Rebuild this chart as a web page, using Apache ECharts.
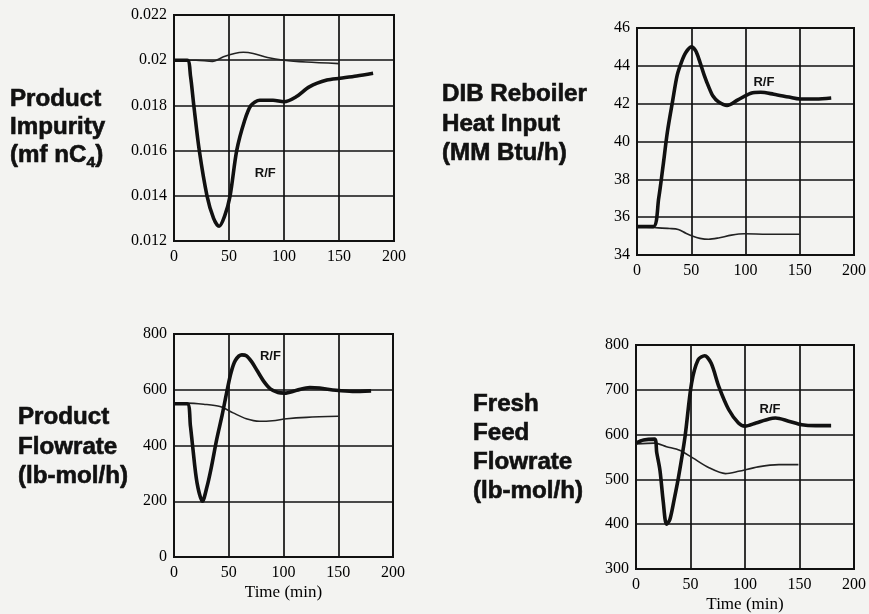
<!DOCTYPE html>
<html><head><meta charset="utf-8">
<script src="https://cdn.jsdelivr.net/npm/echarts@6/dist/echarts.min.js"></script>
<style>html,body{margin:0;padding:0;background:#f3f3f1}#c{width:869px;height:614px}</style>
</head><body><div id="c"></div>
<script>
// ---- shared x ticks ----
const xTicks = [0, 50, 100, 150, 200];

// ---- Panel 1: Product Impurity (mf nC4) ----
const impTicks = [0.012, 0.014, 0.016, 0.018, 0.02, 0.022];
const impRF_t = [0, 12, 15, 18, 23, 30, 36, 41, 46, 51, 57, 64, 70, 78, 90, 100, 111, 123, 139, 151, 166, 181];
const impRF   = [0.0200, 0.0200, 0.0193, 0.0180, 0.0160, 0.0140, 0.0130, 0.01265, 0.0131, 0.0140, 0.0160, 0.0173, 0.0180, 0.01823, 0.01823, 0.01816, 0.01838, 0.01882, 0.01912, 0.0192, 0.0193, 0.01942];
const impOT_t = [0, 20, 35, 45, 55, 63, 72, 85, 100, 120, 150];
const impOT   = [0.0200, 0.0200, 0.01995, 0.02015, 0.0203, 0.02035, 0.0203, 0.02012, 0.0200, 0.01992, 0.01985];

// ---- Panel 2: DIB Reboiler Heat Input (MM Btu/h) ----
const heatTicks = [34, 36, 38, 40, 42, 44, 46];
const heatRF_t = [0, 15, 20, 24, 28, 33, 37, 41, 45, 50, 54, 58, 62, 66, 70, 75, 83, 93, 105, 114, 126, 140, 150, 165, 179];
const heatRF   = [35.5, 35.5, 37.0, 38.7, 40.5, 42.2, 43.5, 44.2, 44.7, 45.0, 44.8, 44.2, 43.5, 42.9, 42.4, 42.1, 41.9, 42.2, 42.55, 42.6, 42.5, 42.35, 42.25, 42.25, 42.3];
const heatOT_t = [0, 15, 30, 38, 45, 51, 58, 66, 75, 87, 99, 120, 150];
const heatOT   = [35.5, 35.45, 35.4, 35.35, 35.15, 35.0, 34.88, 34.83, 34.9, 35.05, 35.12, 35.1, 35.1];

// ---- Panel 3: Product Flowrate (lb-mol/h) ----
const prodTicks = [0, 200, 400, 600, 800];
const prodRF_t = [0, 12, 15, 17, 21, 26, 30, 34, 39, 44, 48, 52, 56, 62, 66, 71, 76, 82, 88, 95, 101, 112, 124, 133, 148, 163, 180];
const prodRF   = [550, 550, 470, 398, 267, 200, 250, 320, 422, 510, 588, 660, 705, 725, 722, 700, 668, 630, 603, 590, 588, 598, 608, 606, 598, 594, 596];
const prodOT_t = [0, 12, 27, 42, 54, 66, 78, 90, 103, 121, 150];
const prodOT   = [552, 552, 548, 540, 517, 496, 487, 489, 496, 501, 505];

// ---- Panel 4: Fresh Feed Flowrate (lb-mol/h) ----
const feedTicks = [300, 400, 500, 600, 700, 800];
const feedRF_t = [0, 7, 17, 19, 22, 25, 28, 31, 35, 39, 45, 51, 57, 63, 69, 76, 85, 94, 100, 110, 122, 128, 140, 152, 165, 179];
const feedRF   = [581, 588, 590, 560, 520, 450, 400, 410, 455, 505, 596, 715, 767, 776, 759, 707, 656, 626, 619, 626, 635, 637, 630, 622, 620, 620];
const feedOT_t = [0, 17, 28, 40, 52, 67, 82, 94, 112, 131, 149];
const feedOT   = [579, 581, 573, 565, 548, 526, 513, 518, 528, 533, 533];

// ---- annotation positions (data coords) and text ----
const rfLabel = 'R/F';
const rfLabelAt = [[83, 0.0150], [117, 43.1], [88, 718], [123, 656]];
const timeName = 'Time (min)';

const zip = (t, v) => t.map((x, i) => [x, v[i]]);
const SERIF = '"Liberation Serif", "Times New Roman", serif';
const SANS = '"Liberation Sans", Arial, Helvetica, sans-serif';
const INK = '#111';

const panels = [
  { grid: { left: 174, top: 15, width: 220, height: 226 }, ticks: impTicks, rf: zip(impRF_t, impRF), ot: zip(impOT_t, impOT), name: '', fmt: v => String(+v.toFixed(3)) },
  { grid: { left: 637, top: 28, width: 221, height: 227 }, ticks: heatTicks, rf: zip(heatRF_t, heatRF), ot: zip(heatOT_t, heatOT), name: '', fmt: v => String(v) },
  { grid: { left: 174, top: 334, width: 219, height: 223 }, ticks: prodTicks, rf: zip(prodRF_t, prodRF), ot: zip(prodOT_t, prodOT), name: timeName, fmt: v => String(v) },
  { grid: { left: 636, top: 345, width: 221, height: 225 }, ticks: feedTicks, rf: zip(feedRF_t, feedRF), ot: zip(feedOT_t, feedOT), name: timeName, fmt: v => String(v) }
];

const grids = [], xAxes = [], yAxes = [], series = [];
panels.forEach((p, i) => {
  grids.push(Object.assign({ show: true, borderColor: INK, borderWidth: 2, backgroundColor: 'transparent' }, p.grid));
  xAxes.push({
    type: 'value', gridIndex: i, min: xTicks[0], max: xTicks[xTicks.length - 1], interval: xTicks[1] - xTicks[0],
    axisLine: { show: true, lineStyle: { color: INK, width: 2 } }, axisTick: { show: false },
    axisLabel: { color: '#000', fontFamily: SERIF, fontSize: 16, margin: 8 },
    splitLine: { show: true, lineStyle: { color: INK, width: 1.7 } },
    name: p.name, nameLocation: 'middle', nameGap: 27,
    nameTextStyle: { color: '#000', fontFamily: SERIF, fontSize: 17 }
  });
  const tk = p.ticks;
  yAxes.push({
    type: 'value', gridIndex: i, min: tk[0], max: tk[tk.length - 1], interval: +(tk[1] - tk[0]).toFixed(6),
    axisLine: { show: true, lineStyle: { color: INK, width: 2 } }, axisTick: { show: false },
    axisLabel: { color: '#000', fontFamily: SERIF, fontSize: 16, margin: 7, formatter: p.fmt },
    splitLine: { show: true, lineStyle: { color: INK, width: 1.7 } }
  });
  series.push({
    type: 'line', xAxisIndex: i, yAxisIndex: i, data: p.ot, showSymbol: false, smooth: 0.3,
    lineStyle: { color: '#222', width: 1.6 }, z: 3
  });
  series.push({
    type: 'line', xAxisIndex: i, yAxisIndex: i, data: p.rf, showSymbol: false, smooth: 0.3,
    lineStyle: { color: '#111', width: 3.6 }, z: 4,
    markPoint: {
      symbol: 'circle', symbolSize: 1, itemStyle: { color: 'rgba(0,0,0,0)' },
      data: [{ coord: rfLabelAt[i] }],
      label: { show: true, position: 'inside', formatter: rfLabel, color: INK, fontFamily: SANS, fontWeight: 'bold', fontSize: 13 }
    }
  });
});

// ---- side titles ----
const TFS = 23, SX = 1.05;
const ctx = document.createElement('canvas').getContext('2d');
function tw(s, fs) { ctx.font = 'bold ' + fs + 'px ' + SANS; return ctx.measureText(s).width * SX; }
function tText(s, x, y, fs) {
  return { type: 'text', x: x, y: y, scaleX: SX, scaleY: 1, z: 10, silent: true,
    style: { text: s, fill: INK, stroke: INK, lineWidth: 0.6, font: 'bold ' + fs + 'px ' + SANS, verticalAlign: 'middle', align: 'left' } };
}
const titleLines = [
  { x: 10, lines: [['Product', 100], ['Impurity', 128]] },
  { x: 442, lines: [['DIB Reboiler', 95], ['Heat Input', 125], ['(MM Btu/h)', 154]] },
  { x: 18, lines: [['Product', 418], ['Flowrate', 448], ['(lb-mol/h)', 477]] },
  { x: 473, lines: [['Fresh', 405], ['Feed', 434], ['Flowrate', 463], ['(lb-mol/h)', 492]] }
];
const graphic = [];
titleLines.forEach(t => t.lines.forEach(l => graphic.push(tText(l[0], t.x, l[1], TFS))));
// "(mf nC4)" with subscript
const l3y = 156, l3a = '(mf nC', sub = '4';
const w1 = tw(l3a, TFS), w2 = tw(sub, 15);
graphic.push(tText(l3a, 10, l3y, TFS));
graphic.push(tText(sub, 10 + w1, l3y + 7, 15));
graphic.push(tText(')', 10 + w1 + w2, l3y, TFS));

const chart = echarts.init(document.getElementById('c'));
chart.setOption({
  backgroundColor: '#f3f3f1',
  animation: false,
  grid: grids, xAxis: xAxes, yAxis: yAxes, series: series, graphic: graphic
});
</script></body></html>
